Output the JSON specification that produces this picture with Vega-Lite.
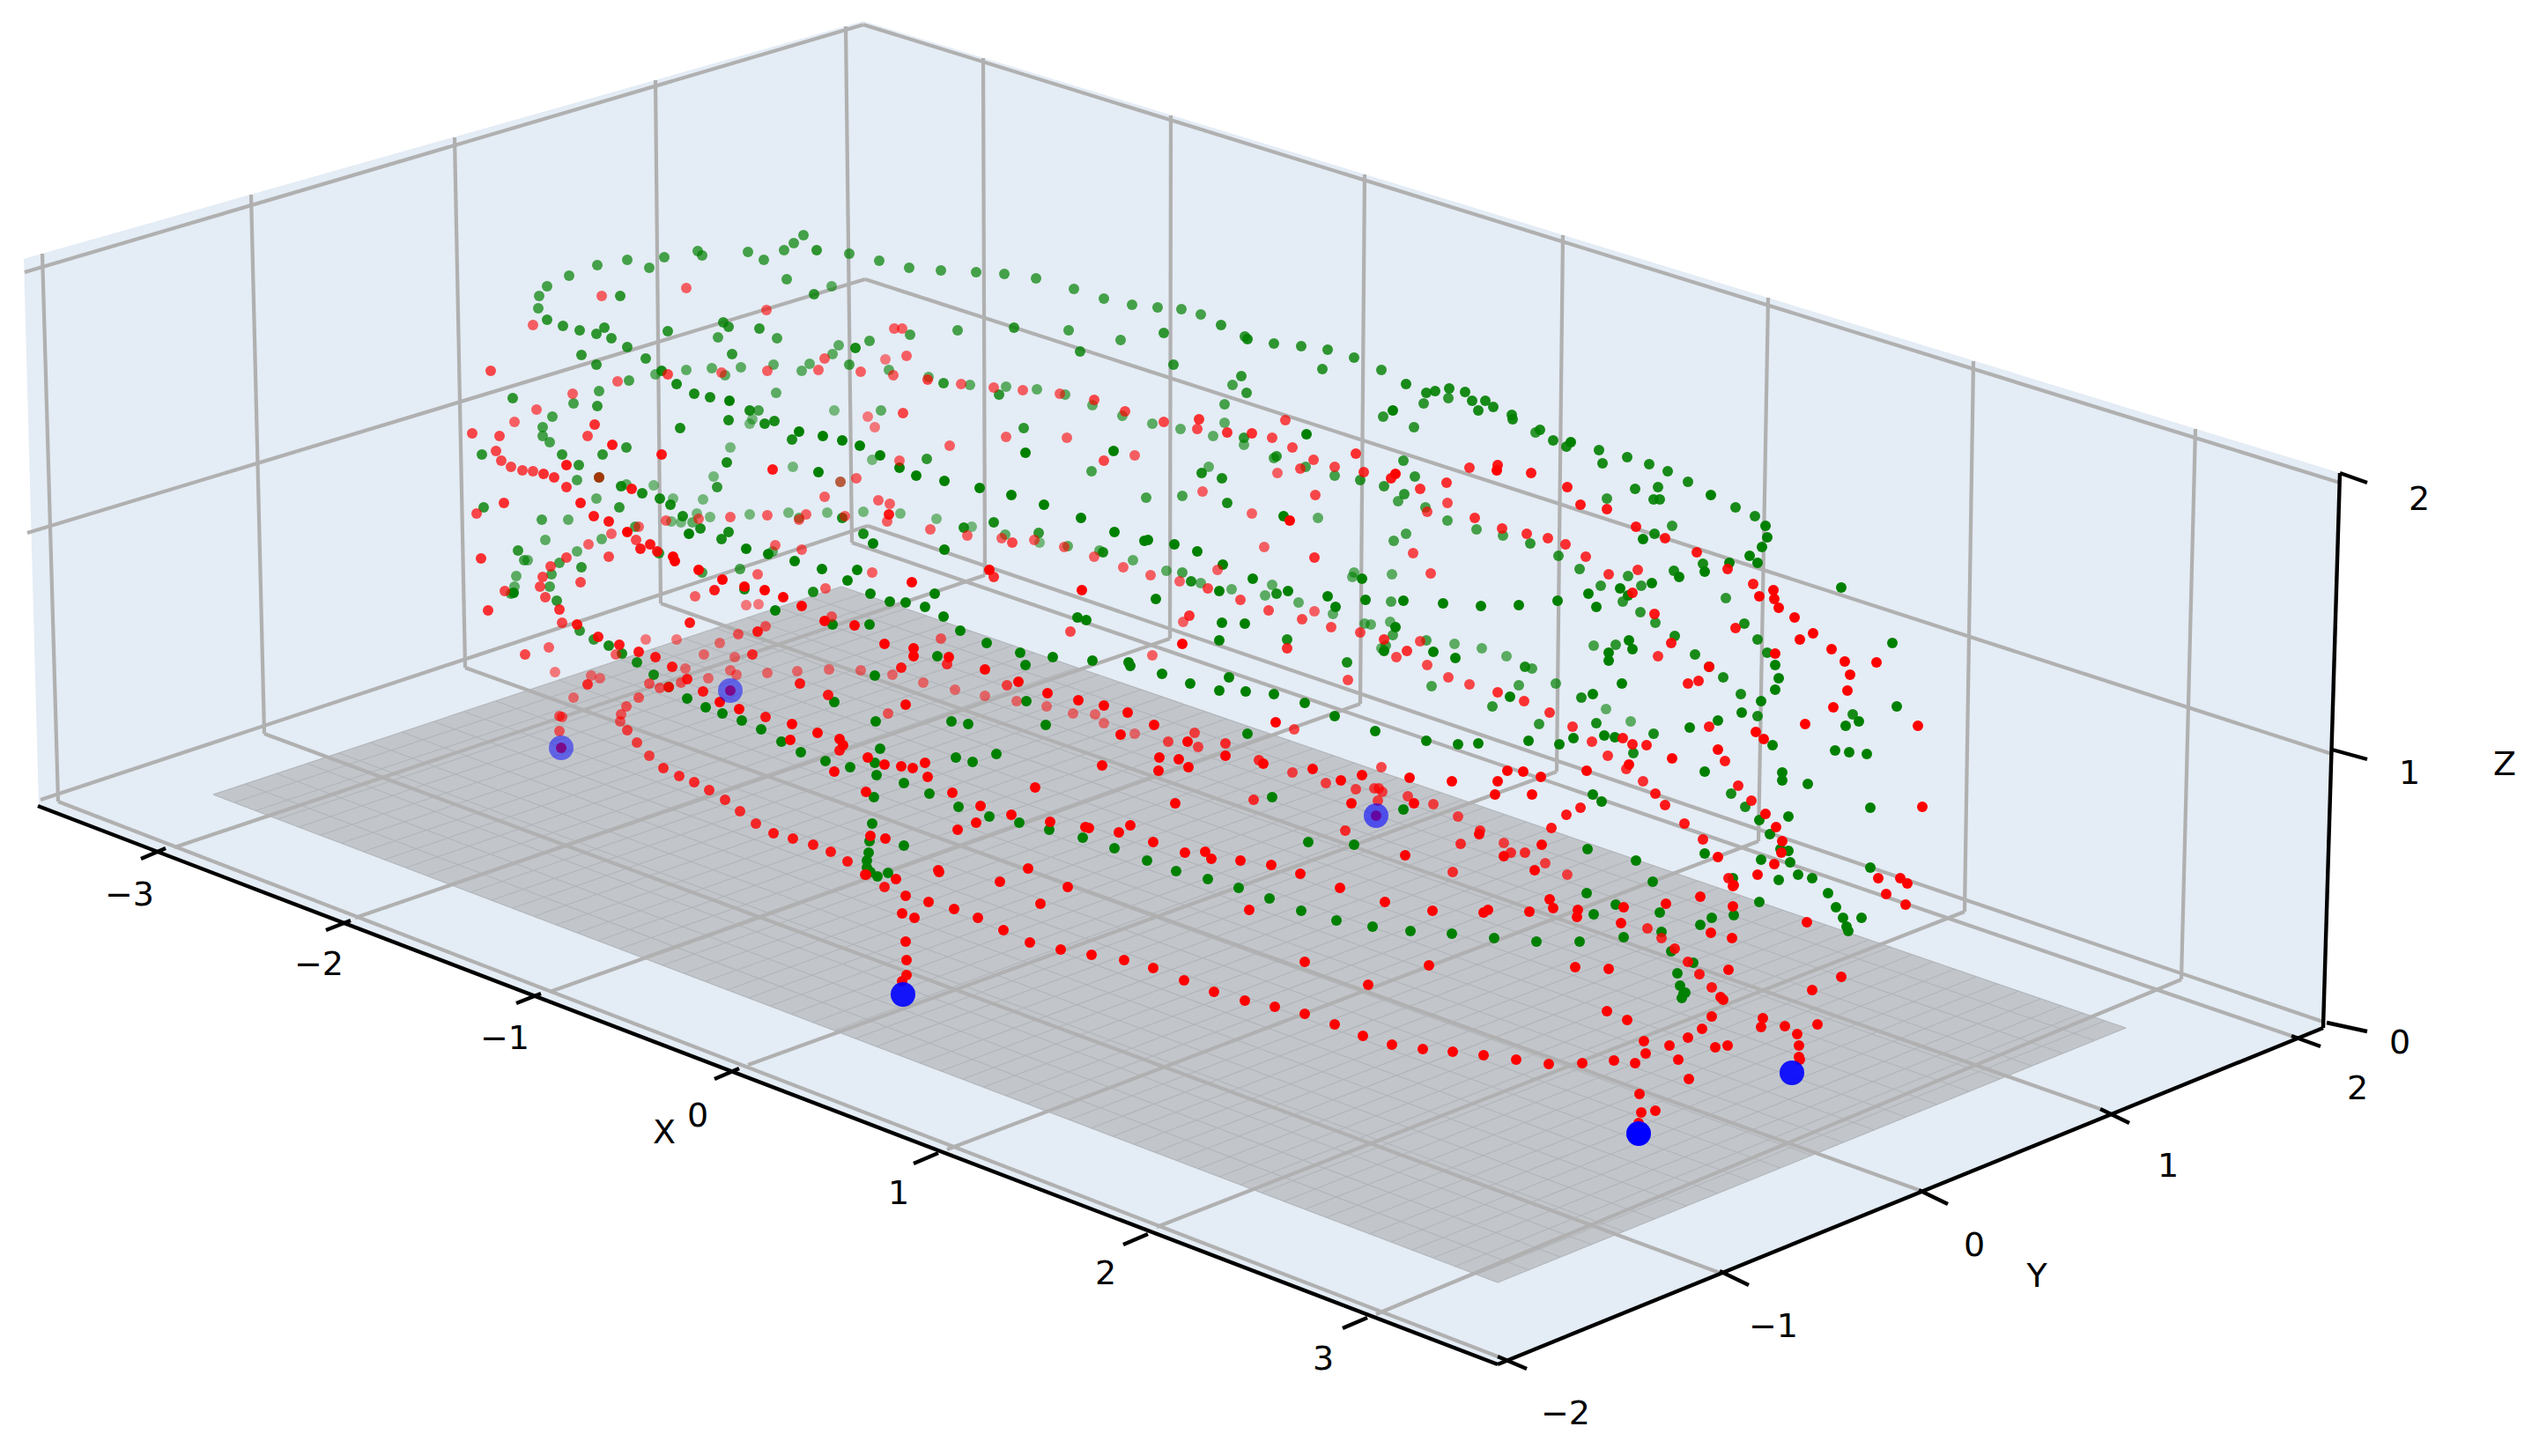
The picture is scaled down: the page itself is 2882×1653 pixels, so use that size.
{"$schema":"https://vega.github.io/schema/vega-lite/v6.json","width":2882,"height":1653,"autosize":{"type":"fit","contains":"padding"},"padding":0,"background":"white","config":{"view":{"stroke":null},"axis":{"domain":false}},
"datasets":{
"pane":[{"u":27,"v":294,"v2":294},{"u":44,"v":289,"v2":915},{"u":980,"v":24,"v2":1273},{"u":1700,"v":244,"v2":1549},{"u":2637,"v":531,"v2":1167},{"u":2656,"v":537,"v2":537}],
"plate":[{"u":242,"v":902,"v2":902},{"u":955,"v":666,"v2":1173},{"u":1700,"v":922,"v2":1456},{"u":2413,"v":1167,"v2":1167}],
"fine":[{"u":242,"v":902,"u2":955,"v2":666},{"u":266,"v":911,"u2":979,"v2":674},{"u":291,"v":920,"u2":1004,"v2":683},{"u":315,"v":930,"u2":1028,"v2":691},{"u":339,"v":939,"u2":1052,"v2":699},{"u":364,"v":948,"u2":1077,"v2":708},{"u":388,"v":957,"u2":1101,"v2":716},{"u":412,"v":967,"u2":1125,"v2":724},{"u":436,"v":976,"u2":1149,"v2":733},{"u":461,"v":985,"u2":1174,"v2":741},{"u":485,"v":994,"u2":1198,"v2":750},{"u":509,"v":1004,"u2":1222,"v2":758},{"u":534,"v":1013,"u2":1247,"v2":766},{"u":558,"v":1022,"u2":1271,"v2":775},{"u":582,"v":1031,"u2":1295,"v2":783},{"u":607,"v":1040,"u2":1320,"v2":791},{"u":631,"v":1050,"u2":1344,"v2":800},{"u":655,"v":1059,"u2":1368,"v2":808},{"u":679,"v":1068,"u2":1392,"v2":816},{"u":704,"v":1077,"u2":1417,"v2":825},{"u":728,"v":1087,"u2":1441,"v2":833},{"u":752,"v":1096,"u2":1465,"v2":841},{"u":777,"v":1105,"u2":1490,"v2":850},{"u":801,"v":1114,"u2":1514,"v2":858},{"u":825,"v":1124,"u2":1538,"v2":866},{"u":850,"v":1133,"u2":1563,"v2":875},{"u":874,"v":1142,"u2":1587,"v2":883},{"u":898,"v":1151,"u2":1611,"v2":891},{"u":922,"v":1161,"u2":1635,"v2":900},{"u":947,"v":1170,"u2":1660,"v2":908},{"u":971,"v":1179,"u2":1684,"v2":917},{"u":995,"v":1188,"u2":1708,"v2":925},{"u":1020,"v":1197,"u2":1733,"v2":933},{"u":1044,"v":1207,"u2":1757,"v2":942},{"u":1068,"v":1216,"u2":1781,"v2":950},{"u":1093,"v":1225,"u2":1806,"v2":958},{"u":1117,"v":1234,"u2":1830,"v2":967},{"u":1141,"v":1244,"u2":1854,"v2":975},{"u":1165,"v":1253,"u2":1878,"v2":983},{"u":1190,"v":1262,"u2":1903,"v2":992},{"u":1214,"v":1271,"u2":1927,"v2":1000},{"u":1238,"v":1281,"u2":1951,"v2":1008},{"u":1263,"v":1290,"u2":1976,"v2":1017},{"u":1287,"v":1299,"u2":2000,"v2":1025},{"u":1311,"v":1308,"u2":2024,"v2":1033},{"u":1336,"v":1317,"u2":2049,"v2":1042},{"u":1360,"v":1327,"u2":2073,"v2":1050},{"u":1384,"v":1336,"u2":2097,"v2":1058},{"u":1408,"v":1345,"u2":2121,"v2":1067},{"u":1433,"v":1354,"u2":2146,"v2":1075},{"u":1457,"v":1364,"u2":2170,"v2":1084},{"u":1481,"v":1373,"u2":2194,"v2":1092},{"u":1506,"v":1382,"u2":2219,"v2":1100},{"u":1530,"v":1391,"u2":2243,"v2":1109},{"u":1554,"v":1401,"u2":2267,"v2":1117},{"u":1579,"v":1410,"u2":2292,"v2":1125},{"u":1603,"v":1419,"u2":2316,"v2":1134},{"u":1627,"v":1428,"u2":2340,"v2":1142},{"u":1651,"v":1438,"u2":2364,"v2":1150},{"u":1676,"v":1447,"u2":2389,"v2":1159},{"u":1700,"v":1456,"u2":2413,"v2":1167},
{"u":242,"v":902,"u2":1700,"v2":1456},{"u":278,"v":890,"u2":1736,"v2":1442},{"u":313,"v":878,"u2":1771,"v2":1427},{"u":349,"v":867,"u2":1807,"v2":1413},{"u":385,"v":855,"u2":1843,"v2":1398},{"u":420,"v":843,"u2":1878,"v2":1384},{"u":456,"v":831,"u2":1914,"v2":1369},{"u":492,"v":819,"u2":1950,"v2":1355},{"u":527,"v":808,"u2":1985,"v2":1340},{"u":563,"v":796,"u2":2021,"v2":1326},{"u":599,"v":784,"u2":2057,"v2":1312},{"u":634,"v":772,"u2":2092,"v2":1297},{"u":670,"v":760,"u2":2128,"v2":1283},{"u":705,"v":749,"u2":2163,"v2":1268},{"u":741,"v":737,"u2":2199,"v2":1254},{"u":777,"v":725,"u2":2235,"v2":1239},{"u":812,"v":713,"u2":2270,"v2":1225},{"u":848,"v":701,"u2":2306,"v2":1210},{"u":884,"v":690,"u2":2342,"v2":1196},{"u":919,"v":678,"u2":2377,"v2":1181},{"u":955,"v":666,"u2":2413,"v2":1167}],
"grid":[{"u":48,"v":288,"u2":66,"v2":910},{"u":285,"v":221,"u2":300,"v2":833},{"u":516,"v":156,"u2":528,"v2":758},{"u":744,"v":91,"u2":750,"v2":685},{"u":960,"v":30,"u2":967,"v2":616},
{"u":66,"v":910,"u2":1700,"v2":1540},{"u":300,"v":833,"u2":1952,"v2":1445},{"u":528,"v":758,"u2":2178,"v2":1351},{"u":750,"v":685,"u2":2384,"v2":1259},{"u":967,"v":616,"u2":2601,"v2":1176},
{"u":1116,"v":66,"u2":1118,"v2":653},{"u":1329,"v":131,"u2":1328,"v2":725},{"u":1549,"v":198,"u2":1544,"v2":799},{"u":1774,"v":267,"u2":1767,"v2":876},{"u":2007,"v":338,"u2":1996,"v2":955},{"u":2240,"v":410,"u2":2230,"v2":1035},{"u":2492,"v":487,"u2":2476,"v2":1112},
{"u":198,"v":962,"u2":1118,"v2":653},{"u":403,"v":1042,"u2":1328,"v2":725},{"u":624,"v":1126,"u2":1544,"v2":799},{"u":849,"v":1209,"u2":1767,"v2":876},{"u":1075,"v":1305,"u2":1996,"v2":955},{"u":1313,"v":1393,"u2":2230,"v2":1035},{"u":1562,"v":1492,"u2":2476,"v2":1112},
{"u":31,"v":605,"u2":982,"v2":317},{"u":982,"v":317,"u2":2647,"v2":856},{"u":46,"v":908,"u2":985,"v2":597},{"u":985,"v":597,"u2":2637,"v2":1160},{"u":28,"v":309,"u2":980,"v2":28},{"u":980,"v":28,"u2":2656,"v2":548}],
"axes":[{"u":43,"v":915,"u2":1700,"v2":1549},{"u":1700,"v":1549,"u2":2637,"v2":1167},{"u":2637,"v":1167,"u2":2656,"v2":537},
{"u":160,"v":975,"u2":188,"v2":963},{"u":370,"v":1056,"u2":398,"v2":1045},{"u":586,"v":1139,"u2":614,"v2":1128},{"u":811,"v":1225,"u2":839,"v2":1213},{"u":1037,"v":1321,"u2":1065,"v2":1309},{"u":1275,"v":1413,"u2":1303,"v2":1401},{"u":1524,"v":1508,"u2":1552,"v2":1496},
{"u":1700,"v":1540,"u2":1733,"v2":1554},{"u":1952,"v":1443,"u2":1985,"v2":1459},{"u":2178,"v":1351,"u2":2211,"v2":1367},{"u":2384,"v":1259,"u2":2417,"v2":1275},{"u":2601,"v":1176,"u2":2634,"v2":1188},
{"u":2641,"v":1161,"u2":2687,"v2":1171},{"u":2647,"v":851,"u2":2687,"v2":862},{"u":2656,"v":537,"u2":2687,"v2":548}],
"labels":[{"u":147,"v":1017,"t":"−3"},{"u":362,"v":1096,"t":"−2"},{"u":573,"v":1180,"t":"−1"},{"u":792,"v":1268,"t":"0"},{"u":1020,"v":1356,"t":"1"},{"u":1255,"v":1447,"t":"2"},{"u":1502,"v":1544,"t":"3"},{"u":1777,"v":1606,"t":"−2"},{"u":2013,"v":1507,"t":"−1"},{"u":2241,"v":1415,"t":"0"},{"u":2461,"v":1325,"t":"1"},{"u":2676,"v":1237,"t":"2"},{"u":2724,"v":1185,"t":"0"},{"u":2735,"v":879,"t":"1"},{"u":2746,"v":568,"t":"2"},{"u":754,"v":1287,"t":"X"},{"u":2312,"v":1450,"t":"Y"},{"u":2843,"v":869,"t":"Z"}],
"green":[{"u":912,"v":267,"d":7},{"u":901,"v":276,"d":7},{"u":890,"v":284,"d":7},{"u":927,"v":284,"d":8},{"u":849,"v":286,"d":7},{"u":867,"v":295,"d":7},{"u":792,"v":285,"d":7},{"u":797,"v":290,"d":7},{"u":754,"v":292,"d":7},{"u":737,"v":304,"d":7},{"u":712,"v":295,"d":7},{"u":678,"v":301,"d":7},{"u":646,"v":313,"d":7},{"u":621,"v":325,"d":7},{"u":612,"v":336,"d":7},{"u":611,"v":350,"d":7},{"u":621,"v":363,"d":8},{"u":639,"v":370,"d":8},{"u":658,"v":375,"d":8},{"u":677,"v":379,"d":8},{"u":686,"v":372,"d":8},{"u":694,"v":384,"d":8},{"u":704,"v":336,"d":8},{"u":758,"v":376,"d":8},{"u":712,"v":394,"d":8},{"u":733,"v":407,"d":8},{"u":660,"v":403,"d":8},{"u":677,"v":414,"d":8},{"u":964,"v":288,"d":7},{"u":998,"v":296,"d":7},{"u":1032,"v":304,"d":7},{"u":1068,"v":307,"d":7},{"u":1108,"v":309,"d":7},{"u":1140,"v":311,"d":7},{"u":1176,"v":316,"d":7},{"u":1219,"v":328,"d":7},{"u":1253,"v":339,"d":7},{"u":893,"v":317,"d":7},{"u":924,"v":334,"d":8},{"u":944,"v":325,"d":6},{"u":821,"v":366,"d":8},{"u":827,"v":371,"d":8},{"u":862,"v":373,"d":8},{"u":882,"v":384,"d":7},{"u":815,"v":383,"d":7},{"u":831,"v":402,"d":8},{"u":841,"v":417,"d":6},{"u":878,"v":414,"d":6},{"u":919,"v":413,"d":6},{"u":910,"v":421,"d":6},{"u":945,"v":402,"d":6},{"u":952,"v":392,"d":6},{"u":971,"v":395,"d":9},{"u":987,"v":387,"d":7},{"u":964,"v":414,"d":7},{"u":1009,"v":420,"d":6},{"u":1033,"v":380,"d":7},{"u":1087,"v":375,"d":7},{"u":1151,"v":372,"d":8},{"u":1213,"v":375,"d":7},{"u":1272,"v":386,"d":7},{"u":1226,"v":399,"d":8},{"u":1054,"v":428,"d":6},{"u":1071,"v":435,"d":8},{"u":1101,"v":437,"d":6},{"u":1142,"v":439,"d":6},{"u":1134,"v":448,"d":8},{"u":1177,"v":442,"d":6},{"u":1209,"v":448,"d":6},{"u":1240,"v":460,"d":6},{"u":1274,"v":472,"d":6},{"u":751,"v":421,"d":9},{"u":744,"v":425,"d":6},{"u":779,"v":420,"d":6},{"u":808,"v":418,"d":6},{"u":823,"v":426,"d":6},{"u":768,"v":436,"d":9},{"u":788,"v":447,"d":9},{"u":806,"v":451,"d":9},{"u":828,"v":455,"d":10},{"u":851,"v":466,"d":9},{"u":861,"v":466,"d":7},{"u":881,"v":446,"d":6},{"u":947,"v":466,"d":5},{"u":1000,"v":466,"d":6},{"u":714,"v":432,"d":7},{"u":680,"v":444,"d":7},{"u":651,"v":458,"d":7},{"u":678,"v":461,"d":8},{"u":582,"v":452,"d":8},{"u":627,"v":473,"d":7},{"u":616,"v":485,"d":7},{"u":616,"v":495,"d":7},{"u":624,"v":502,"d":7},{"u":638,"v":516,"d":8},{"u":547,"v":516,"d":8},{"u":684,"v":516,"d":8},{"u":711,"v":508,"d":8},{"u":657,"v":528,"d":8},{"u":655,"v":545,"d":7},{"u":680,"v":542,"d":9},{"u":705,"v":552,"d":9},{"u":711,"v":550,"d":6},{"u":742,"v":551,"d":5},{"u":729,"v":560,"d":9},{"u":749,"v":566,"d":9},{"u":764,"v":566,"d":5},{"u":761,"v":573,"d":9},{"u":677,"v":566,"d":6},{"u":703,"v":576,"d":8},{"u":549,"v":576,"d":8},{"u":615,"v":590,"d":7},{"u":645,"v":590,"d":6},{"u":798,"v":567,"d":5},{"u":810,"v":541,"d":5},{"u":814,"v":553,"d":8},{"u":825,"v":525,"d":9},{"u":829,"v":508,"d":5},{"u":827,"v":477,"d":9},{"u":854,"v":476,"d":5},{"u":851,"v":481,"d":5},{"u":868,"v":481,"d":9},{"u":879,"v":478,"d":9},{"u":772,"v":486,"d":9},{"u":907,"v":490,"d":10},{"u":899,"v":499,"d":9},{"u":934,"v":495,"d":10},{"u":956,"v":500,"d":10},{"u":976,"v":506,"d":10},{"u":999,"v":517,"d":10},{"u":990,"v":522,"d":5},{"u":1021,"v":531,"d":10},{"u":1052,"v":521,"d":8},{"u":1040,"v":540,"d":10},{"u":1072,"v":546,"d":10},{"u":1112,"v":554,"d":10},{"u":1148,"v":562,"d":10},{"u":1185,"v":573,"d":10},{"u":1227,"v":588,"d":10},{"u":1162,"v":486,"d":8},{"u":1164,"v":514,"d":10},{"u":1264,"v":512,"d":10},{"u":1239,"v":535,"d":7},{"u":900,"v":530,"d":5},{"u":929,"v":536,"d":10},{"u":954,"v":547,"d":5},{"u":775,"v":586,"d":9},{"u":791,"v":583,"d":5},{"u":806,"v":587,"d":5},{"u":762,"v":592,"d":5},{"u":773,"v":593,"d":5},{"u":786,"v":593,"d":6},{"u":795,"v":600,"d":9},{"u":782,"v":606,"d":10},{"u":827,"v":604,"d":9},{"u":819,"v":612,"d":9},{"u":851,"v":584,"d":5},{"u":895,"v":582,"d":5},{"u":907,"v":588,"d":6},{"u":939,"v":582,"d":5},{"u":956,"v":588,"d":9},{"u":980,"v":581,"d":5},{"u":1022,"v":583,"d":5},{"u":1063,"v":589,"d":5},{"u":1094,"v":599,"d":9},{"u":1103,"v":598,"d":5},{"u":1128,"v":593,"d":9},{"u":1141,"v":607,"d":6},{"u":1179,"v":605,"d":8},{"u":1180,"v":616,"d":5},{"u":1212,"v":620,"d":6},{"u":1248,"v":625,"d":6},{"u":1252,"v":627,"d":9},{"u":1265,"v":604,"d":10},{"u":980,"v":606,"d":9},{"u":991,"v":617,"d":10},{"u":1072,"v":624,"d":10},{"u":721,"v":598,"d":7},{"u":683,"v":612,"d":6},{"u":655,"v":626,"d":6},{"u":619,"v":613,"d":6},{"u":588,"v":625,"d":8},{"u":595,"v":636,"d":7},{"u":599,"v":636,"d":6},{"u":635,"v":639,"d":7},{"u":660,"v":644,"d":8},{"u":626,"v":652,"d":7},{"u":586,"v":654,"d":6},{"u":584,"v":666,"d":6},{"u":580,"v":674,"d":7},{"u":583,"v":673,"d":10},{"u":624,"v":666,"d":7},{"u":632,"v":682,"d":8},{"u":847,"v":623,"d":10},{"u":872,"v":629,"d":10},{"u":877,"v":626,"d":6},{"u":748,"v":628,"d":8},{"u":902,"v":637,"d":10},{"u":797,"v":650,"d":7},{"u":840,"v":646,"d":7},{"u":933,"v":646,"d":10},{"u":973,"v":647,"d":10},{"u":962,"v":659,"d":10},{"u":923,"v":672,"d":9},{"u":988,"v":674,"d":10},{"u":1010,"v":683,"d":10},{"u":1028,"v":684,"d":10},{"u":1050,"v":689,"d":10},{"u":1061,"v":674,"d":10},{"u":845,"v":669,"d":9},{"u":880,"v":693,"d":10},{"u":1071,"v":700,"d":10},{"u":1223,"v":701,"d":10},{"u":1233,"v":704,"d":10},
{"u":987,"v":709,"d":10},{"u":945,"v":709,"d":10},{"u":658,"v":716,"d":8},{"u":674,"v":726,"d":8},{"u":691,"v":733,"d":9},{"u":706,"v":742,"d":9},{"u":723,"v":752,"d":9},{"u":742,"v":766,"d":9},{"u":759,"v":780,"d":10},{"u":993,"v":767,"d":10},{"u":947,"v":797,"d":10},{"u":780,"v":793,"d":10},{"u":801,"v":803,"d":10},{"u":820,"v":810,"d":10},{"u":842,"v":818,"d":10},{"u":864,"v":828,"d":10},{"u":887,"v":842,"d":10},{"u":909,"v":854,"d":10},{"u":937,"v":864,"d":10},{"u":965,"v":871,"d":10},{"u":993,"v":866,"d":10},{"u":995,"v":880,"d":10},{"u":1026,"v":889,"d":10},{"u":992,"v":905,"d":10},{"u":1055,"v":901,"d":10},{"u":1088,"v":916,"d":10},{"u":1123,"v":927,"d":10},{"u":1157,"v":934,"d":10},{"u":1191,"v":942,"d":10},{"u":1229,"v":951,"d":10},{"u":1265,"v":963,"d":10},{"u":999,"v":850,"d":10},{"u":1085,"v":860,"d":10},{"u":1104,"v":865,"d":10},{"u":1131,"v":856,"d":10},{"u":994,"v":819,"d":10},{"u":1080,"v":819,"d":10},{"u":1099,"v":822,"d":10},{"u":1187,"v":823,"d":10},{"u":1165,"v":796,"d":10},{"u":1064,"v":745,"d":10},{"u":1120,"v":730,"d":10},{"u":1090,"v":716,"d":10},{"u":1158,"v":741,"d":10},{"u":1164,"v":755,"d":10},{"u":1195,"v":746,"d":10},{"u":1240,"v":750,"d":10},{"u":1281,"v":752,"d":10},{"u":1283,"v":756,"d":10},{"u":990,"v":935,"d":10},{"u":987,"v":955,"d":10},{"u":1026,"v":960,"d":10},{"u":986,"v":968,"d":10},{"u":984,"v":977,"d":10},{"u":984,"v":985,"d":10},{"u":988,"v":990,"d":10},{"u":996,"v":995,"d":10},{"u":1008,"v":991,"d":10},
{"u":1285,"v":346,"d":7},{"u":1314,"v":349,"d":7},{"u":1341,"v":351,"d":7},{"u":1363,"v":357,"d":7},{"u":1386,"v":369,"d":8},{"u":1321,"v":378,"d":8},{"u":1413,"v":382,"d":8},{"u":1416,"v":385,"d":9},{"u":1446,"v":390,"d":8},{"u":1477,"v":393,"d":8},{"u":1507,"v":397,"d":8},{"u":1537,"v":406,"d":8},{"u":1568,"v":420,"d":8},{"u":1501,"v":419,"d":8},{"u":1332,"v":414,"d":8},{"u":1409,"v":427,"d":8},{"u":1399,"v":437,"d":7},{"u":1415,"v":446,"d":8},{"u":1390,"v":459,"d":7},{"u":1308,"v":481,"d":6},{"u":1340,"v":487,"d":6},{"u":1390,"v":480,"d":6},{"u":1377,"v":495,"d":6},{"u":1412,"v":497,"d":8},{"u":1412,"v":505,"d":6},{"u":1446,"v":520,"d":7},{"u":1449,"v":518,"d":8},{"u":1483,"v":493,"d":10},{"u":1482,"v":530,"d":7},{"u":1372,"v":530,"d":6},{"u":1364,"v":537,"d":9},{"u":1387,"v":543,"d":9},{"u":1515,"v":540,"d":7},{"u":1544,"v":545,"d":8},{"u":1593,"v":523,"d":8},{"u":1571,"v":552,"d":8},{"u":1342,"v":563,"d":7},{"u":1301,"v":565,"d":7},{"u":1393,"v":571,"d":9},{"u":1457,"v":586,"d":10},{"u":1496,"v":588,"d":6},{"u":1587,"v":569,"d":7},{"u":1594,"v":561,"d":8},{"u":1582,"v":614,"d":7},{"u":1596,"v":606,"d":7},{"u":1299,"v":614,"d":10},{"u":1303,"v":613,"d":10},{"u":1333,"v":618,"d":10},{"u":1359,"v":626,"d":10},{"u":1388,"v":641,"d":10},{"u":1286,"v":636,"d":6},{"u":1324,"v":648,"d":6},{"u":1342,"v":650,"d":7},{"u":1352,"v":660,"d":9},{"u":1363,"v":662,"d":6},{"u":1384,"v":671,"d":10},{"u":1398,"v":669,"d":6},{"u":1422,"v":657,"d":10},{"u":1444,"v":664,"d":6},{"u":1436,"v":676,"d":6},{"u":1449,"v":674,"d":9},{"u":1462,"v":671,"d":10},{"u":1474,"v":684,"d":6},{"u":1507,"v":677,"d":10},{"u":1516,"v":689,"d":10},{"u":1513,"v":697,"d":6},{"u":1550,"v":681,"d":10},{"u":1579,"v":683,"d":7},{"u":1593,"v":682,"d":10},{"u":1535,"v":655,"d":6},{"u":1537,"v":650,"d":6},{"u":1546,"v":657,"d":10},{"u":1580,"v":652,"d":6},{"u":1312,"v":680,"d":10},{"u":1387,"v":707,"d":10},{"u":1413,"v":708,"d":10},{"u":1384,"v":727,"d":10},{"u":1461,"v":726,"d":9},{"u":1549,"v":708,"d":6},{"u":1556,"v":709,"d":6},{"u":1578,"v":706,"d":6},{"u":1584,"v":712,"d":10},{"u":1581,"v":721,"d":7},{"u":1573,"v":733,"d":7},{"u":1568,"v":736,"d":6},{"u":1571,"v":739,"d":10},{"u":1529,"v":752,"d":9},{"u":1319,"v":765,"d":10},{"u":1395,"v":769,"d":10},{"u":1351,"v":776,"d":10},
{"u":1596,"v":436,"d":9},{"u":1619,"v":446,"d":9},{"u":1629,"v":444,"d":9},{"u":1645,"v":441,"d":9},{"u":1644,"v":452,"d":8},{"u":1616,"v":458,"d":8},{"u":1663,"v":445,"d":9},{"u":1671,"v":455,"d":9},{"u":1686,"v":455,"d":9},{"u":1695,"v":462,"d":9},{"u":1678,"v":466,"d":9},{"u":1716,"v":471,"d":9},{"u":1717,"v":476,"d":9},{"u":1581,"v":466,"d":10},{"u":1570,"v":473,"d":8},{"u":1605,"v":485,"d":8},{"u":1748,"v":488,"d":9},{"u":1743,"v":491,"d":8},{"u":1763,"v":500,"d":9},{"u":1783,"v":502,"d":10},{"u":1778,"v":507,"d":9},{"u":1815,"v":511,"d":9},{"u":1819,"v":526,"d":9},{"u":1847,"v":519,"d":9},{"u":1872,"v":527,"d":9},{"u":1893,"v":535,"d":9},{"u":1916,"v":547,"d":9},{"u":1942,"v":562,"d":10},{"u":1606,"v":541,"d":8},{"u":1856,"v":555,"d":9},{"u":1882,"v":553,"d":9},
{"u":1824,"v":566,"d":8},{"u":1877,"v":567,"d":9},{"u":1884,"v":567,"d":9},{"u":1970,"v":576,"d":9},{"u":1992,"v":586,"d":9},{"u":2004,"v":597,"d":10},{"u":2006,"v":610,"d":10},{"u":2000,"v":621,"d":10},{"u":1986,"v":631,"d":10},{"u":1995,"v":639,"d":10},{"u":1963,"v":639,"d":10},{"u":1933,"v":640,"d":9},{"u":1935,"v":649,"d":10},{"u":1900,"v":648,"d":9},{"u":1906,"v":655,"d":10},{"u":1898,"v":597,"d":8},{"u":1878,"v":606,"d":9},{"u":1865,"v":612,"d":10},{"u":1618,"v":576,"d":7},{"u":1643,"v":591,"d":7},{"u":1676,"v":601,"d":7},{"u":1706,"v":608,"d":7},{"u":1737,"v":617,"d":8},{"u":1769,"v":631,"d":8},{"u":1793,"v":646,"d":8},{"u":1848,"v":654,"d":8},{"u":1817,"v":665,"d":8},{"u":1803,"v":674,"d":10},{"u":1839,"v":668,"d":10},{"u":1863,"v":665,"d":8},{"u":1875,"v":662,"d":10},{"u":1848,"v":676,"d":10},{"u":1842,"v":683,"d":8},{"u":1812,"v":689,"d":10},{"u":1638,"v":685,"d":10},{"u":1681,"v":688,"d":10},{"u":1724,"v":687,"d":10},{"u":1768,"v":682,"d":10},{"u":1862,"v":695,"d":8},{"u":1879,"v":707,"d":8},{"u":1959,"v":679,"d":8},{"u":2090,"v":667,"d":10},{"u":1980,"v":708,"d":9},{"u":1995,"v":726,"d":9},{"u":1901,"v":722,"d":9},{"u":1619,"v":727,"d":7},{"u":1651,"v":731,"d":6},{"u":1682,"v":736,"d":6},{"u":1710,"v":745,"d":6},{"u":1627,"v":740,"d":10},{"u":1652,"v":747,"d":10},{"u":1731,"v":757,"d":9},{"u":1739,"v":759,"d":7},{"u":1625,"v":779,"d":7},{"u":1724,"v":778,"d":7},{"u":1766,"v":776,"d":7},{"u":1694,"v":802,"d":8},{"u":1714,"v":791,"d":10},{"u":1795,"v":792,"d":9},{"u":1808,"v":788,"d":10},{"u":1809,"v":733,"d":7},{"u":1834,"v":732,"d":8},{"u":1849,"v":727,"d":10},{"u":1853,"v":737,"d":10},{"u":1826,"v":741,"d":10},{"u":1826,"v":750,"d":10},{"u":1841,"v":776,"d":10},{"u":1823,"v":805,"d":6},{"u":1851,"v":819,"d":6},{"u":1812,"v":821,"d":9},{"u":1747,"v":822,"d":8},{"u":1619,"v":841,"d":10},{"u":1655,"v":845,"d":10},{"u":1678,"v":844,"d":10},{"u":1735,"v":841,"d":10},{"u":1770,"v":845,"d":10},{"u":1786,"v":838,"d":10},{"u":1821,"v":835,"d":10},{"u":1833,"v":837,"d":10},{"u":1877,"v":833,"d":9},{"u":1854,"v":855,"d":9},{"u":1918,"v":826,"d":10},{"u":1950,"v":818,"d":10},{"u":1924,"v":743,"d":9},{"u":1956,"v":769,"d":9},{"u":1976,"v":788,"d":9},{"u":1999,"v":796,"d":10},{"u":1977,"v":809,"d":10},{"u":1995,"v":813,"d":9},{"u":2006,"v":741,"d":9},{"u":2015,"v":755,"d":10},{"u":2019,"v":770,"d":10},{"u":2015,"v":783,"d":10},{"u":2148,"v":730,"d":10},{"u":2153,"v":802,"d":10},{"u":2103,"v":811,"d":9},{"u":2110,"v":819,"d":10},{"u":2095,"v":824,"d":10},{"u":2083,"v":852,"d":10},{"u":2099,"v":854,"d":10},{"u":2119,"v":856,"d":10},{"u":2012,"v":846,"d":10},{"u":2023,"v":877,"d":10},{"u":2023,"v":886,"d":10},{"u":2052,"v":890,"d":10},{"u":1935,"v":876,"d":10},{"u":1965,"v":901,"d":9},{"u":1981,"v":916,"d":9},{"u":2123,"v":917,"d":10},{"u":2030,"v":927,"d":10},{"u":1997,"v":931,"d":10},{"u":2009,"v":947,"d":10},{"u":1808,"v":902,"d":10},{"u":1818,"v":910,"d":10},{"u":1802,"v":964,"d":10},{"u":1857,"v":977,"d":10},{"u":1935,"v":969,"d":10},{"u":2021,"v":964,"d":10},{"u":2030,"v":966,"d":10},{"u":1999,"v":976,"d":10},{"u":2032,"v":979,"d":10},{"u":2041,"v":993,"d":10},{"u":2057,"v":997,"d":10},{"u":2019,"v":999,"d":10},{"u":2123,"v":985,"d":10},{"u":1967,"v":997,"d":10},{"u":1940,"v":757,"d":10},
{"u":1384,"v":784,"d":10},{"u":1414,"v":785,"d":10},{"u":1446,"v":788,"d":10},{"u":1481,"v":798,"d":10},{"u":1515,"v":813,"d":10},{"u":1561,"v":830,"d":10},{"u":1416,"v":833,"d":10},{"u":1444,"v":905,"d":10},{"u":1485,"v":956,"d":10},{"u":1537,"v":959,"d":10},{"u":1593,"v":919,"d":10},{"u":1302,"v":977,"d":10},{"u":1335,"v":989,"d":10},{"u":1371,"v":998,"d":10},{"u":1406,"v":1008,"d":10},{"u":1441,"v":1020,"d":10},{"u":1477,"v":1034,"d":10},{"u":1517,"v":1045,"d":10},{"u":1558,"v":1052,"d":10},{"u":1601,"v":1057,"d":10},{"u":1648,"v":1060,"d":10},{"u":1696,"v":1065,"d":10},{"u":1744,"v":1069,"d":10},{"u":1793,"v":1069,"d":10},{"u":1843,"v":1064,"d":10},{"u":1801,"v":1014,"d":10},{"u":1876,"v":1001,"d":10},{"u":1834,"v":1027,"d":10},{"u":1809,"v":1038,"d":10},{"u":1884,"v":1036,"d":10},{"u":1930,"v":1050,"d":10},{"u":1943,"v":1042,"d":10},{"u":1968,"v":1039,"d":10},{"u":1997,"v":1024,"d":10},{"u":1886,"v":1058,"d":10},{"u":1897,"v":1080,"d":10},{"u":1922,"v":1093,"d":10},{"u":1904,"v":1105,"d":10},{"u":1907,"v":1119,"d":10},{"u":1913,"v":1127,"d":10},{"u":1909,"v":1133,"d":10},{"u":1911,"v":1128,"d":10},{"u":2075,"v":1014,"d":10},{"u":2084,"v":1030,"d":10},{"u":2092,"v":1042,"d":10},{"u":2096,"v":1052,"d":10},{"u":2098,"v":1057,"d":10},{"u":2113,"v":1042,"d":10}],
"red":[{"u":683,"v":336,"d":6},{"u":779,"v":327,"d":6},{"u":605,"v":369,"d":6},{"u":870,"v":352,"d":6},{"u":1015,"v":373,"d":6},{"u":1024,"v":373,"d":6},{"u":1005,"v":408,"d":5},{"u":1029,"v":404,"d":6},{"u":936,"v":407,"d":6},{"u":929,"v":420,"d":6},{"u":977,"v":422,"d":6},{"u":871,"v":421,"d":6},{"u":819,"v":423,"d":6},{"u":758,"v":425,"d":7},{"u":701,"v":433,"d":6},{"u":557,"v":421,"d":7},{"u":650,"v":447,"d":6},{"u":1014,"v":426,"d":6},{"u":1053,"v":431,"d":7},{"u":1091,"v":436,"d":6},{"u":1128,"v":440,"d":6},{"u":1161,"v":443,"d":6},{"u":1203,"v":447,"d":6},{"u":1242,"v":454,"d":7},{"u":1277,"v":467,"d":7},{"u":609,"v":465,"d":6},{"u":584,"v":479,"d":6},{"u":536,"v":492,"d":7},{"u":567,"v":495,"d":7},{"u":675,"v":482,"d":8},{"u":667,"v":495,"d":7},{"u":563,"v":512,"d":7},{"u":569,"v":523,"d":7},{"u":580,"v":530,"d":7},{"u":593,"v":534,"d":7},{"u":605,"v":535,"d":7},{"u":617,"v":538,"d":8},{"u":629,"v":542,"d":8},{"u":643,"v":528,"d":9},{"u":643,"v":553,"d":8},{"u":680,"v":542,"d":6},{"u":695,"v":505,"d":9},{"u":751,"v":516,"d":9},{"u":717,"v":555,"d":9},{"u":659,"v":571,"d":9},{"u":572,"v":571,"d":8},{"u":541,"v":583,"d":7},{"u":674,"v":586,"d":9},{"u":691,"v":592,"d":9},{"u":756,"v":591,"d":6},{"u":793,"v":589,"d":6},{"u":829,"v":587,"d":6},{"u":871,"v":585,"d":6},{"u":907,"v":590,"d":6},{"u":915,"v":584,"d":6},{"u":959,"v":586,"d":6},{"u":972,"v":543,"d":6},{"u":954,"v":547,"d":5},{"u":936,"v":564,"d":6},{"u":877,"v":533,"d":9},{"u":997,"v":568,"d":6},{"u":1010,"v":572,"d":6},{"u":1009,"v":584,"d":9},{"u":1007,"v":592,"d":6},{"u":1021,"v":523,"d":6},{"u":1078,"v":506,"d":6},{"u":1025,"v":469,"d":7},{"u":985,"v":473,"d":5},{"u":993,"v":485,"d":5},{"u":1142,"v":496,"d":6},{"u":1211,"v":497,"d":6},{"u":1253,"v":523,"d":7},{"u":1056,"v":601,"d":6},{"u":1098,"v":608,"d":6},{"u":1137,"v":611,"d":6},{"u":1149,"v":616,"d":7},{"u":1174,"v":613,"d":6},{"u":1208,"v":621,"d":6},{"u":1242,"v":632,"d":6},{"u":1275,"v":644,"d":6},{"u":725,"v":598,"d":6},{"u":712,"v":604,"d":10},{"u":694,"v":606,"d":6},{"u":668,"v":618,"d":6},{"u":643,"v":633,"d":7},{"u":625,"v":643,"d":7},{"u":616,"v":655,"d":7},{"u":659,"v":661,"d":7},{"u":613,"v":666,"d":7},{"u":573,"v":671,"d":7},{"u":619,"v":678,"d":7},{"u":546,"v":634,"d":8},{"u":554,"v":693,"d":8},{"u":635,"v":692,"d":8},{"u":691,"v":632,"d":7},{"u":722,"v":613,"d":7},{"u":727,"v":623,"d":9},{"u":738,"v":618,"d":9},{"u":746,"v":626,"d":9},{"u":764,"v":632,"d":10},{"u":766,"v":637,"d":10},{"u":793,"v":647,"d":10},{"u":820,"v":658,"d":10},{"u":811,"v":670,"d":9},{"u":845,"v":666,"d":10},{"u":868,"v":670,"d":10},{"u":889,"v":678,"d":10},{"u":910,"v":688,"d":10},{"u":789,"v":677,"d":6},{"u":847,"v":687,"d":5},{"u":861,"v":686,"d":5},{"u":860,"v":652,"d":6},{"u":880,"v":619,"d":6},{"u":910,"v":624,"d":6},{"u":990,"v":650,"d":6},{"u":937,"v":668,"d":6},{"u":1035,"v":661,"d":10},{"u":1123,"v":647,"d":10},{"u":1128,"v":655,"d":8},{"u":1228,"v":670,"d":10},{"u":1215,"v":717,"d":7},
{"u":970,"v":710,"d":10},{"u":936,"v":705,"d":10},{"u":944,"v":700,"d":6},{"u":860,"v":717,"d":9},{"u":869,"v":711,"d":6},{"u":838,"v":720,"d":6},{"u":783,"v":707,"d":9},{"u":655,"v":709,"d":9},{"u":638,"v":707,"d":7},{"u":679,"v":723,"d":9},{"u":703,"v":732,"d":9},{"u":699,"v":743,"d":6},{"u":725,"v":740,"d":9},{"u":744,"v":746,"d":9},{"u":733,"v":726,"d":5},{"u":768,"v":726,"d":5},{"u":817,"v":730,"d":5},{"u":834,"v":746,"d":5},{"u":854,"v":743,"d":8},{"u":799,"v":743,"d":5},{"u":623,"v":735,"d":6},{"u":596,"v":743,"d":7},{"u":630,"v":763,"d":5},{"u":671,"v":767,"d":5},{"u":681,"v":770,"d":5},{"u":667,"v":777,"d":8},{"u":651,"v":792,"d":5},{"u":635,"v":813,"d":6},{"u":638,"v":814,"d":6},{"u":635,"v":830,"d":6},{"u":763,"v":757,"d":9},{"u":778,"v":759,"d":5},{"u":737,"v":776,"d":6},{"u":749,"v":781,"d":6},{"u":759,"v":780,"d":9},{"u":773,"v":775,"d":6},{"u":780,"v":771,"d":9},{"u":804,"v":770,"d":5},{"u":829,"v":761,"d":5},{"u":836,"v":766,"d":5},{"u":871,"v":764,"d":5},{"u":905,"v":762,"d":5},{"u":941,"v":760,"d":5},{"u":977,"v":761,"d":5},{"u":1013,"v":766,"d":5},{"u":1048,"v":775,"d":5},{"u":1084,"v":783,"d":5},{"u":1118,"v":790,"d":5},{"u":1154,"v":796,"d":5},{"u":1188,"v":802,"d":5},{"u":1218,"v":810,"d":5},{"u":1243,"v":811,"d":5},{"u":1253,"v":821,"d":5},{"u":1288,"v":833,"d":5},{"u":1023,"v":758,"d":9},{"u":908,"v":776,"d":9},{"u":940,"v":789,"d":9},{"u":798,"v":785,"d":9},{"u":725,"v":792,"d":6},{"u":711,"v":802,"d":6},{"u":705,"v":811,"d":6},{"u":704,"v":819,"d":6},{"u":712,"v":829,"d":7},{"u":723,"v":843,"d":7},{"u":737,"v":858,"d":7},{"u":753,"v":872,"d":8},{"u":771,"v":881,"d":8},{"u":788,"v":888,"d":8},{"u":805,"v":897,"d":8},{"u":823,"v":908,"d":8},{"u":840,"v":921,"d":8},{"u":858,"v":935,"d":8},{"u":878,"v":946,"d":9},{"u":900,"v":952,"d":9},{"u":923,"v":959,"d":9},{"u":943,"v":967,"d":9},{"u":962,"v":978,"d":9},{"u":982,"v":993,"d":9},{"u":1004,"v":1007,"d":9},{"u":1017,"v":998,"d":10},{"u":1028,"v":1017,"d":10},{"u":1054,"v":1024,"d":10},{"u":1083,"v":1032,"d":10},{"u":1110,"v":1042,"d":10},{"u":1139,"v":1056,"d":10},{"u":1169,"v":1070,"d":10},{"u":1204,"v":1078,"d":10},{"u":1239,"v":1084,"d":10},{"u":1276,"v":1090,"d":10},{"u":1024,"v":1037,"d":10},{"u":1038,"v":1042,"d":10},{"u":1028,"v":1069,"d":10},{"u":1029,"v":1090,"d":10},{"u":1029,"v":1107,"d":10},{"u":1024,"v":1114,"d":10},{"u":817,"v":797,"d":10},{"u":839,"v":805,"d":10},{"u":869,"v":814,"d":9},{"u":899,"v":822,"d":10},{"u":928,"v":832,"d":10},{"u":897,"v":840,"d":10},{"u":947,"v":876,"d":10},{"u":953,"v":839,"d":10},{"u":957,"v":846,"d":10},{"u":953,"v":852,"d":9},{"u":985,"v":860,"d":10},{"u":1004,"v":868,"d":10},{"u":1023,"v":870,"d":10},{"u":1036,"v":872,"d":10},{"u":1050,"v":866,"d":10},{"u":1053,"v":882,"d":10},{"u":983,"v":899,"d":10},{"u":1081,"v":900,"d":10},{"u":1113,"v":915,"d":10},{"u":1108,"v":934,"d":10},{"u":1087,"v":942,"d":10},{"u":1148,"v":925,"d":10},{"u":1192,"v":933,"d":10},{"u":1232,"v":939,"d":10},{"u":1236,"v":940,"d":10},{"u":1270,"v":945,"d":10},{"u":1283,"v":937,"d":10},{"u":1008,"v":810,"d":6},{"u":1028,"v":800,"d":10},{"u":1143,"v":778,"d":7},{"u":1156,"v":774,"d":10},{"u":1189,"v":787,"d":10},{"u":1224,"v":795,"d":10},{"u":1253,"v":801,"d":10},{"u":1280,"v":809,"d":10},{"u":1272,"v":834,"d":10},{"u":1118,"v":760,"d":10},{"u":1075,"v":754,"d":8},{"u":1077,"v":746,"d":10},{"u":1037,"v":736,"d":10},{"u":1037,"v":745,"d":10},{"u":1004,"v":731,"d":10},{"u":1068,"v":725,"d":6},{"u":1175,"v":894,"d":10},{"u":1167,"v":986,"d":10},{"u":1135,"v":1001,"d":10},{"u":1212,"v":1007,"d":10},{"u":1181,"v":1026,"d":10},{"u":1065,"v":988,"d":10},{"u":1066,"v":990,"d":10},{"u":1251,"v":869,"d":10},{"u":988,"v":949,"d":10},{"u":1005,"v":952,"d":10},{"u":983,"v":993,"d":9},
{"u":1321,"v":479,"d":7},{"u":1361,"v":476,"d":8},{"u":1359,"v":487,"d":7},{"u":1393,"v":491,"d":8},{"u":1421,"v":492,"d":8},{"u":1444,"v":497,"d":7},{"u":1459,"v":477,"d":7},{"u":1467,"v":508,"d":7},{"u":1491,"v":522,"d":7},{"u":1476,"v":532,"d":7},{"u":1450,"v":537,"d":6},{"u":1515,"v":530,"d":7},{"u":1539,"v":515,"d":8},{"u":1548,"v":536,"d":8},{"u":1579,"v":543,"d":9},{"u":1584,"v":538,"d":10},{"u":1288,"v":517,"d":6},{"u":1365,"v":558,"d":6},{"u":1493,"v":562,"d":7},{"u":1421,"v":583,"d":6},{"u":1464,"v":591,"d":10},{"u":1435,"v":621,"d":6},{"u":1492,"v":633,"d":8},{"u":1382,"v":647,"d":6},{"u":1306,"v":653,"d":6},{"u":1339,"v":660,"d":6},{"u":1371,"v":668,"d":7},{"u":1408,"v":681,"d":7},{"u":1440,"v":693,"d":7},{"u":1492,"v":694,"d":6},{"u":1478,"v":703,"d":7},{"u":1511,"v":712,"d":7},{"u":1544,"v":718,"d":7},{"u":1571,"v":726,"d":8},{"u":1343,"v":706,"d":6},{"u":1350,"v":699,"d":8},{"u":1342,"v":731,"d":10},{"u":1308,"v":744,"d":6},{"u":1461,"v":736,"d":8},{"u":1597,"v":739,"d":8},{"u":1585,"v":746,"d":7},{"u":1530,"v":772,"d":7},{"u":1612,"v":555,"d":8},{"u":1642,"v":548,"d":8},{"u":1668,"v":531,"d":8},{"u":1700,"v":528,"d":9},{"u":1699,"v":534,"d":10},{"u":1738,"v":537,"d":9},{"u":1779,"v":553,"d":9},
{"u":1643,"v":571,"d":7},{"u":1620,"v":581,"d":7},{"u":1674,"v":588,"d":8},{"u":1705,"v":600,"d":8},{"u":1733,"v":606,"d":8},{"u":1757,"v":611,"d":8},{"u":1777,"v":618,"d":8},{"u":1800,"v":632,"d":8},{"u":1794,"v":573,"d":9},{"u":1824,"v":578,"d":9},{"u":1857,"v":598,"d":9},{"u":1890,"v":611,"d":9},{"u":1926,"v":627,"d":9},{"u":1961,"v":646,"d":9},{"u":1990,"v":663,"d":9},{"u":2013,"v":670,"d":10},{"u":1997,"v":677,"d":10},{"u":2014,"v":680,"d":10},{"u":2019,"v":690,"d":10},{"u":2037,"v":701,"d":10},{"u":2058,"v":719,"d":10},{"u":2043,"v":726,"d":10},{"u":2079,"v":737,"d":10},{"u":2094,"v":751,"d":10},{"u":2130,"v":752,"d":10},{"u":2100,"v":766,"d":10},{"u":2097,"v":784,"d":10},{"u":2081,"v":803,"d":10},{"u":2049,"v":822,"d":10},{"u":2177,"v":824,"d":10},{"u":2182,"v":916,"d":10},{"u":1604,"v":628,"d":7},{"u":1624,"v":651,"d":7},{"u":1826,"v":652,"d":8},{"u":1859,"v":647,"d":8},{"u":1853,"v":673,"d":9},{"u":1878,"v":697,"d":9},{"u":1970,"v":713,"d":9},{"u":1897,"v":730,"d":9},{"u":1882,"v":745,"d":8},{"u":2015,"v":742,"d":10},{"u":1940,"v":757,"d":10},{"u":1916,"v":776,"d":9},{"u":1928,"v":773,"d":9},{"u":1612,"v":728,"d":7},{"u":1620,"v":755,"d":7},{"u":1644,"v":769,"d":7},{"u":1668,"v":777,"d":7},{"u":1700,"v":786,"d":8},{"u":1730,"v":796,"d":8},{"u":1759,"v":809,"d":8},{"u":1785,"v":825,"d":8},{"u":1807,"v":842,"d":8},{"u":1842,"v":838,"d":9},{"u":1853,"v":845,"d":9},{"u":1869,"v":846,"d":9},{"u":1825,"v":858,"d":8},{"u":1940,"v":825,"d":9},{"u":1993,"v":831,"d":10},{"u":2002,"v":839,"d":10},{"u":1950,"v":851,"d":10},{"u":1958,"v":864,"d":9},{"u":1898,"v":861,"d":10},{"u":1849,"v":868,"d":10},{"u":1846,"v":873,"d":8},{"u":1865,"v":887,"d":8},{"u":1879,"v":901,"d":9},{"u":1890,"v":914,"d":9},{"u":1912,"v":935,"d":9},{"u":1933,"v":953,"d":9},{"u":1950,"v":973,"d":10},{"u":1973,"v":892,"d":9},{"u":1988,"v":909,"d":9},{"u":2004,"v":924,"d":10},{"u":2016,"v":939,"d":10},{"u":2023,"v":955,"d":10},{"u":2022,"v":968,"d":10},{"u":2014,"v":981,"d":10},{"u":1995,"v":993,"d":10},{"u":1962,"v":997,"d":9},{"u":1967,"v":1006,"d":10},{"u":2132,"v":997,"d":10},{"u":2157,"v":997,"d":10},{"u":2165,"v":1003,"d":10},{"u":2141,"v":1015,"d":10},{"u":2163,"v":1027,"d":10},{"u":1711,"v":875,"d":10},{"u":1729,"v":876,"d":10},{"u":1749,"v":882,"d":10},{"u":1801,"v":875,"d":10},{"u":1700,"v":887,"d":10},{"u":1648,"v":887,"d":10},{"u":1600,"v":883,"d":10},{"u":1697,"v":902,"d":10},{"u":1739,"v":902,"d":10},{"u":1794,"v":917,"d":9},{"u":1778,"v":925,"d":9},{"u":1761,"v":940,"d":9},{"u":1605,"v":912,"d":10},{"u":1627,"v":913,"d":7},{"u":1655,"v":927,"d":7},{"u":1680,"v":943,"d":8},{"u":1679,"v":947,"d":10},{"u":1658,"v":958,"d":8},{"u":1707,"v":957,"d":7},{"u":1750,"v":959,"d":10},{"u":1715,"v":968,"d":8},{"u":1707,"v":972,"d":10},{"u":1731,"v":968,"d":8},{"u":1754,"v":980,"d":7},{"u":1742,"v":988,"d":10},{"u":1649,"v":990,"d":8},{"u":1779,"v":993,"d":7},
{"u":1310,"v":823,"d":10},{"u":1356,"v":832,"d":7},{"u":1326,"v":842,"d":7},{"u":1348,"v":842,"d":10},{"u":1360,"v":848,"d":7},{"u":1391,"v":844,"d":8},{"u":1391,"v":858,"d":10},{"u":1316,"v":860,"d":10},{"u":1338,"v":862,"d":10},{"u":1349,"v":871,"d":10},{"u":1315,"v":875,"d":10},{"u":1448,"v":820,"d":10},{"u":1469,"v":828,"d":7},{"u":1434,"v":867,"d":10},{"u":1429,"v":863,"d":8},{"u":1467,"v":877,"d":7},{"u":1490,"v":873,"d":10},{"u":1505,"v":889,"d":7},{"u":1522,"v":886,"d":10},{"u":1539,"v":896,"d":7},{"u":1546,"v":880,"d":10},{"u":1568,"v":871,"d":7},{"u":1560,"v":895,"d":7},{"u":1565,"v":895,"d":7},{"u":1569,"v":899,"d":7},{"u":1564,"v":909,"d":7},{"u":1534,"v":912,"d":10},{"u":1598,"v":904,"d":7},{"u":1334,"v":912,"d":10},{"u":1423,"v":908,"d":8},{"u":1527,"v":943,"d":8},{"u":1309,"v":956,"d":10},{"u":1345,"v":968,"d":10},{"u":1368,"v":967,"d":10},{"u":1375,"v":975,"d":10},{"u":1408,"v":977,"d":10},{"u":1443,"v":982,"d":10},{"u":1476,"v":992,"d":10},{"u":1521,"v":1008,"d":10},{"u":1595,"v":971,"d":10},{"u":1572,"v":1024,"d":10},{"u":1418,"v":1033,"d":10},{"u":1309,"v":1099,"d":10},{"u":1344,"v":1113,"d":10},{"u":1378,"v":1126,"d":10},{"u":1413,"v":1136,"d":10},{"u":1447,"v":1143,"d":10},{"u":1481,"v":1151,"d":10},{"u":1515,"v":1163,"d":10},{"u":1547,"v":1176,"d":10},{"u":1580,"v":1186,"d":10},{"u":1615,"v":1191,"d":10},{"u":1649,"v":1194,"d":10},{"u":1684,"v":1198,"d":10},{"u":1721,"v":1203,"d":10},{"u":1758,"v":1208,"d":10},{"u":1796,"v":1207,"d":10},{"u":1832,"v":1204,"d":10},{"u":1856,"v":1207,"d":10},{"u":1868,"v":1196,"d":10},{"u":1866,"v":1182,"d":10},{"u":1895,"v":1187,"d":10},{"u":1905,"v":1203,"d":10},{"u":1916,"v":1178,"d":10},{"u":1932,"v":1168,"d":10},{"u":1943,"v":1154,"d":10},{"u":1947,"v":1189,"d":10},{"u":1961,"v":1187,"d":10},{"u":1917,"v":1225,"d":10},{"u":1861,"v":1242,"d":10},{"u":1863,"v":1263,"d":10},{"u":1879,"v":1261,"d":10},{"u":1860,"v":1275,"d":10},{"u":2042,"v":1200,"d":10},{"u":2043,"v":1203,"d":10},{"u":2042,"v":1187,"d":10},{"u":2040,"v":1174,"d":10},{"u":2026,"v":1165,"d":10},{"u":2001,"v":1156,"d":10},{"u":1999,"v":1166,"d":10},{"u":2063,"v":1163,"d":10},{"u":2090,"v":1109,"d":10},{"u":2057,"v":1124,"d":10},{"u":2051,"v":1047,"d":10},{"u":1626,"v":1034,"d":10},{"u":1684,"v":1036,"d":10},{"u":1689,"v":1033,"d":10},{"u":1736,"v":1035,"d":10},{"u":1759,"v":1021,"d":10},{"u":1763,"v":1031,"d":10},{"u":1791,"v":1033,"d":10},{"u":1790,"v":1041,"d":10},{"u":1843,"v":1030,"d":10},{"u":1891,"v":1026,"d":10},{"u":1930,"v":1018,"d":10},{"u":1968,"v":1005,"d":10},{"u":1967,"v":1029,"d":10},{"u":1840,"v":1048,"d":10},{"u":1870,"v":1054,"d":8},{"u":1886,"v":1065,"d":8},{"u":1942,"v":1059,"d":10},{"u":1966,"v":1065,"d":10},{"u":1901,"v":1077,"d":9},{"u":1916,"v":1092,"d":9},{"u":1929,"v":1106,"d":9},{"u":1962,"v":1101,"d":10},{"u":1943,"v":1121,"d":9},{"u":1953,"v":1132,"d":10},{"u":1956,"v":1135,"d":10},{"u":1622,"v":1096,"d":10},{"u":1788,"v":1098,"d":10},{"u":1826,"v":1100,"d":10},{"u":1824,"v":1148,"d":10},{"u":1847,"v":1158,"d":10},{"u":1553,"v":1118,"d":10},{"u":1481,"v":1092,"d":10},{"u":637,"v":849,"d":9},{"u":829,"v":784,"d":9},{"u":1562,"v":926,"d":9}],
"blue":[{"u":637,"v":849,"d":5},{"u":829,"v":784,"d":5},{"u":1562,"v":926,"d":6},{"u":1025,"v":1129,"d":9},{"u":2034,"v":1218,"d":9},{"u":1860,"v":1287,"d":10}]
},
"encoding":{"x":{"field":"u","type":"quantitative","axis":null,"scale":{"domain":[0,2882],"nice":false,"zero":false}},"y":{"field":"v","type":"quantitative","axis":null,"scale":{"domain":[0,1653],"reverse":true,"nice":false,"zero":false}}},
"layer":[
{"data":{"name":"pane"},"mark":{"type":"area","color":"#e4ecf5","opacity":1},"encoding":{"y2":{"field":"v2"}}},
{"data":{"name":"plate"},"mark":{"type":"area","color":"#c2c6cb","opacity":1},"encoding":{"y2":{"field":"v2"}}},
{"data":{"name":"fine"},"mark":{"type":"rule","color":"#b2b6ba","strokeWidth":1.2},"encoding":{"x2":{"field":"u2"},"y2":{"field":"v2"}}},
{"data":{"name":"grid"},"mark":{"type":"rule","color":"#b0b0b0","strokeWidth":4.2},"encoding":{"x2":{"field":"u2"},"y2":{"field":"v2"}}},
{"data":{"name":"axes"},"mark":{"type":"rule","color":"#000000","strokeWidth":4.4},"encoding":{"x2":{"field":"u2"},"y2":{"field":"v2"}}},
{"data":{"name":"green"},"mark":{"type":"point","filled":true,"color":"#008000","size":144,"strokeWidth":0},"encoding":{"opacity":{"field":"d","type":"quantitative","legend":null,"scale":{"domain":[0,10],"range":[0,1]}}}},
{"data":{"name":"red"},"mark":{"type":"point","filled":true,"color":"#ff0000","size":144,"strokeWidth":0},"encoding":{"opacity":{"field":"d","type":"quantitative","legend":null,"scale":{"domain":[0,10],"range":[0,1]}}}},
{"data":{"name":"blue"},"mark":{"type":"point","filled":true,"color":"#0000ff","size":784,"strokeWidth":0},"encoding":{"opacity":{"field":"d","type":"quantitative","legend":null,"scale":{"domain":[0,10],"range":[0,1]}}}},
{"data":{"name":"labels"},"mark":{"type":"text","font":"DejaVu Sans","fontSize":38,"color":"#000000","align":"center","baseline":"middle"},"encoding":{"text":{"field":"t","type":"nominal"}}}
]}
